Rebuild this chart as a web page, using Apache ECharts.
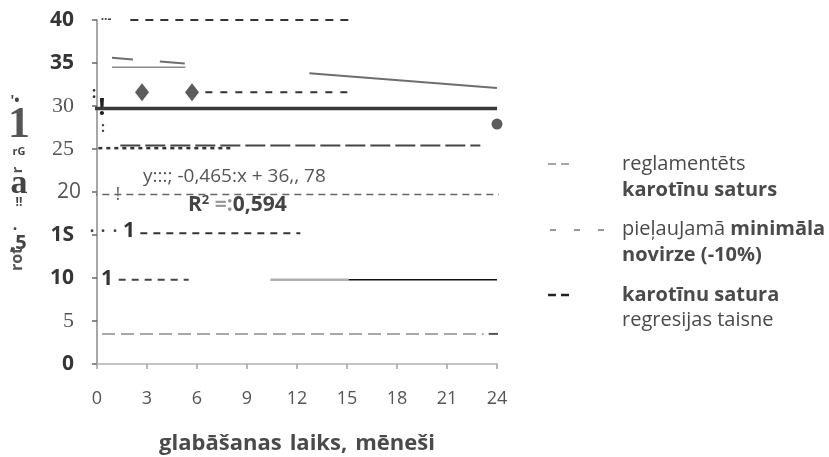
<!DOCTYPE html>
<html>
<head>
<meta charset="utf-8">
<script src="https://cdn.jsdelivr.net/npm/echarts@6/dist/echarts.min.js"></script>
<style>
  html, body { margin: 0; padding: 0; background: #fff; }
  #chart { width: 829px; height: 457px; }
</style>
</head>
<body>
<div id="chart"></div>
<script>
// ---- values ----
const yTickValues = [0, 5, 10, 15, 20, 25, 30, 35, 40];
const yTickLabels = ['0', '5', '10', '1S', '20', '25', '30', '35', '40'];
const xTickLabels = ['0', '3', '6', '9', '12', '15', '18', '21', '24'];
const xAxisWords = ['glabāšanas', 'laiks,', 'mēneši'];

// measured carotene content (months, value)
const diamondMonths = [2.7, 5.7];
const diamondValues = [31.6, 31.6];
const circleMonths = [24];
const circleValues = [27.9];

// reference levels: [from month, to month, level]
const limitLevel = [-0.6, 24, 29.7];
const trendStart = [0.9, 35.6];
const trendEnd = [24, 32.1];
const trendTwin = [0.9, 5.3, 34.5];
const dashRow40 = [2.0, 15.5, 40];
const dashRow31 = [6.5, 15.3, 31.6];
const longDashRow25 = [1.4, 23.0, 25.4];
const shortDashRow25 = [-0.4, 8.2, 25.1];
const dashRow20 = [-0.4, 24.2, 19.7];
const dashRow15 = [2.6, 12.2, 15.2];
const dashRow10 = [1.3, 5.5, 9.8];
const solidRow10Grey = [10.4, 15.1, 9.8];
const solidRow10Dark = [15.1, 24.0, 9.8];
const dashRow3 = [0.3, 23.2, 3.5];
const dashRow3End = [23.5, 24.2, 3.5];

const equationText = 'y:::; -0,465:x + 36,, 78';

// ---- styles ----
const SANS = '"Open Sans", Lato, sans-serif';
const SERIF = '"Liberation Serif", "DejaVu Serif", serif';

const yLabelStyle = {
  '0': 'b', '5': 's', '10': 'b', '1S': 'b', '20': 'r',
  '25': 's', '30': 's', '35': 'b', '40': 'b'
};

function seg(row) {
  return [[row[0], row[2]], [row[1], row[2]]];
}

function levelSeries(row, color, width, dash) {
  return {
    type: 'line',
    data: seg(row),
    symbol: 'none',
    silent: true,
    clip: false,
    lineStyle: { color: color, width: width, type: dash || 'solid' }
  };
}

// centred text helper for the annotation layer
function txt(x, y, text, font, fill, extra) {
  return Object.assign({
    type: 'text', x: x, y: y,
    style: { text: text, font: font, fill: fill, align: 'center', verticalAlign: 'middle' }
  }, extra || {});
}
function ltxt(x, y, text, font, fill) {
  return {
    type: 'text', x: x, y: y,
    style: { text: text, font: font, fill: fill, align: 'left', verticalAlign: 'middle' }
  };
}

const chart = echarts.init(document.getElementById('chart'), null, { renderer: 'canvas' });

const option = {
  backgroundColor: '#ffffff',
  animation: false,
  textStyle: { fontFamily: SANS },
  grid: { left: 97, right: 332, top: 20, bottom: 93, outerBoundsMode: 'none' },
  xAxis: {
    type: 'value',
    min: 0, max: 24, interval: 3,
    name: xAxisWords.map(w => '{w|' + w + '}').join(''),
    nameLocation: 'middle',
    nameGap: 69,
    nameTextStyle: {
      fontFamily: SANS, fontSize: 22, fontWeight: 'bold', color: '#4a4a4a',
      rich: { w: { fontFamily: SANS, fontSize: 22, fontWeight: 'bold', color: '#4a4a4a', padding: [0, 4, 0, 4] } }
    },
    axisLine: { show: true, lineStyle: { color: '#c4c4c4', width: 2 } },
    axisTick: { show: true, inside: false, length: 5, lineStyle: { color: '#a0a0a0', width: 1.5 } },
    axisLabel: {
      margin: 26,
      fontFamily: SANS, fontSize: 18, color: '#555',
      formatter: function (v) { return xTickLabels[Math.round(v / 3)]; }
    },
    splitLine: { show: false }
  },
  yAxis: {
    type: 'value',
    min: 0, max: 40, interval: 5,
    axisLine: { show: true, lineStyle: { color: '#8a8a8a', width: 1.5 } },
    axisTick: { show: true, length: 5, lineStyle: { color: '#666', width: 1.5 } },
    splitLine: { show: false },
    axisLabel: {
      margin: 16,
      formatter: function (v) {
        const t = yTickLabels[yTickValues.indexOf(v)];
        return '{' + yLabelStyle[t] + '|' + t + '}';
      },
      rich: {
        b: { fontFamily: SANS, fontSize: 21, fontWeight: 'bold', color: '#363636', padding: [0, 7, 0, 0] },
        r: { fontFamily: SANS, fontSize: 21, color: '#555' },
        s: { fontFamily: SERIF, fontSize: 22, color: '#555', padding: [0, 7, 0, 0] }
      }
    }
  },
  series: [
    levelSeries(dashRow3, '#8c8c8c', 1.5, [13, 6]),
    levelSeries(dashRow3End, '#555', 2),
    levelSeries(dashRow20, '#666', 1.5, [7, 5]),
    levelSeries(dashRow15, '#333', 2, [7, 6]),
    levelSeries(dashRow10, '#444', 2, [7, 6]),
    levelSeries(solidRow10Grey, '#b0b0b0', 2.5),
    levelSeries(solidRow10Dark, '#111', 1.5),
    levelSeries(shortDashRow25, '#333', 2.5, [4, 4]),
    levelSeries(longDashRow25, '#444', 2, [20, 5]),
    levelSeries(dashRow31, '#333', 2, [7, 8]),
    levelSeries(dashRow40, '#333', 2, [8, 7]),
    levelSeries(limitLevel, '#3a3a3a', 3.5),
    levelSeries(trendTwin, '#8a8a8a', 1.5),
    {
      type: 'line',
      data: [trendStart, trendEnd],
      symbol: 'none',
      silent: true,
      lineStyle: { color: '#6e6e6e', width: 2, type: [21, 27, 25, 125, 200] }
    },
    {
      type: 'scatter',
      data: diamondMonths.map((m, i) => [m, diamondValues[i]]),
      symbol: 'diamond',
      symbolSize: [14, 18],
      itemStyle: { color: '#333' }
    },
    {
      type: 'scatter',
      data: circleMonths.map((m, i) => [m, circleValues[i]]),
      symbol: 'circle',
      symbolSize: 11,
      itemStyle: { color: '#333' }
    }
  ],
  graphic: [
    // equation of the trend line
    ltxt(143, 177, equationText, '19px ' + SANS, '#555'),
    {
      type: 'text', x: 188, y: 205,
      style: {
        text: '{b|R}{sup|2}{g| =:}{b|0,594}',
        verticalAlign: 'middle',
        rich: {
          b: { font: 'bold 21px ' + SANS, fill: '#444' },
          sup: { font: 'bold 13px ' + SANS, fill: '#444', padding: [0, 0, 10, 0] },
          g: { font: 'bold 21px ' + SANS, fill: '#999' }
        }
      }
    },

    // stray marks along the value axis
    txt(118, 195, '!', '18px ' + SANS, '#666'),
    txt(129, 231, '1', 'bold 21px ' + SANS, '#333'),
    txt(107, 279, '1', 'bold 21px ' + SANS, '#333'),
    txt(92, 231, '·', 'bold 16px ' + SANS, '#444'),
    txt(103, 231, '·', 'bold 16px ' + SANS, '#444'),
    txt(115, 231, '·', 'bold 16px ' + SANS, '#444'),
    txt(106, 20, '··-', 'bold 12px ' + SANS, '#444'),
    txt(94, 93, ':', 'bold 16px ' + SANS, '#333'),
    txt(102, 108, '!', 'bold 24px ' + SANS, '#222'),
    txt(103, 128, ':', 'bold 14px ' + SANS, '#444'),

    // value axis caption
    txt(15, 101, "'•", 'bold 14px ' + SANS, '#444'),
    txt(19, 126, '1', 'bold 44px ' + SERIF, '#555'),
    txt(19, 152, 'rG', 'bold 11px ' + SANS, '#444'),
    txt(18, 170, 'r', 'bold 15px ' + SANS, '#555', { rotation: Math.PI / 2 }),
    txt(19, 184, 'a', 'bold 34px ' + SERIF, '#444'),
    txt(19, 203, '!!', 'bold 12px ' + SANS, '#444'),
    txt(15, 229, '·', 'bold 16px ' + SANS, '#444'),
    txt(18, 243, ',5', 'bold 20px ' + SANS, '#444'),
    txt(17, 259, 'rot', 'bold 16px ' + SANS, '#555', { rotation: Math.PI / 2 }),

    // key
    { type: 'line', shape: { x1: 548, y1: 164, x2: 569, y2: 164 }, style: { stroke: '#888', lineWidth: 1.5, lineDash: [8, 5] } },
    ltxt(622, 164, 'reglamentēts', '20px ' + SANS, '#4a4a4a'),
    ltxt(622, 190, 'karotīnu saturs', 'bold 20px ' + SANS, '#4a4a4a'),
    { type: 'line', shape: { x1: 550, y1: 230, x2: 604, y2: 230 }, style: { stroke: '#777', lineWidth: 1.5, lineDash: [6, 18] } },
    {
      type: 'text', x: 622, y: 229,
      style: {
        text: '{r|pieļauJamā }{b|minimāla}',
        verticalAlign: 'middle',
        rich: {
          r: { font: '20px ' + SANS, fill: '#4a4a4a' },
          b: { font: 'bold 20px ' + SANS, fill: '#4a4a4a' }
        }
      }
    },
    ltxt(622, 255, 'novirze (-10%)', 'bold 20px ' + SANS, '#4a4a4a'),
    { type: 'line', shape: { x1: 548, y1: 295, x2: 569, y2: 295 }, style: { stroke: '#222', lineWidth: 2.5, lineDash: [8, 5] } },
    ltxt(622, 295, 'karotīnu satura', 'bold 20px ' + SANS, '#4a4a4a'),
    ltxt(622, 320, 'regresijas taisne', '20px ' + SANS, '#4a4a4a')
  ]
};

chart.setOption(option);
</script>
</body>
</html>
